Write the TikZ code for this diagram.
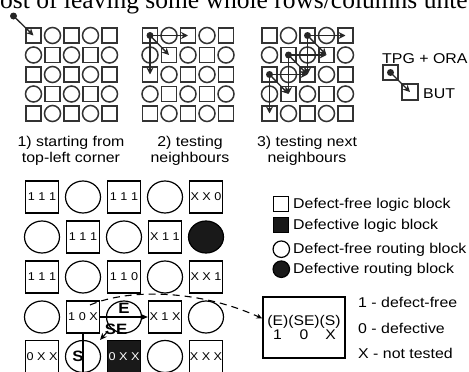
\documentclass[tikz,border=0pt]{standalone}
\usepackage{fontspec}
\setmainfont{Liberation Sans}[FakeStretch=1.12]
\newfontfamily\serifpart{Liberation Serif}
\usepackage{tikz}
\usetikzlibrary{arrows.meta, shapes.geometric, positioning}

\begin{document}
\begin{tikzpicture}[
    x=1pt, y=-1pt,
    cell/.style={rectangle, draw=black!80, line width=1.5pt, minimum size=15pt, inner sep=0pt},
    route/.style={circle, draw=black!80, line width=1.5pt, minimum size=16pt, inner sep=0pt},
    dot/.style={circle, fill=black!85, minimum size=7pt, inner sep=0pt},
    tarrow/.style={-{Stealth[length=7pt, width=7pt]}, line width=1.3pt, black!85},
    barrow/.style={-{Stealth[length=7pt, width=6pt]}, line width=1.1pt},
    lblock/.style={rectangle, draw, line width=1.4pt, minimum width=33pt, minimum height=32pt, inner sep=0pt, font=\fontsize{11.3}{12}\selectfont},
    rblock/.style={ellipse, draw, line width=1.2pt, minimum width=35pt, minimum height=32pt, inner sep=0pt},
    caption/.style={align=center, font=\fontsize{14.2}{16}\selectfont, inner sep=0pt},
    legend/.style={anchor=base west, font=\fontsize{14.2}{16}\selectfont, inner sep=0pt},
    dirlabel/.style={font=\fontsize{15}{16}\selectfont\bfseries, inner sep=0pt}
]
\useasboundingbox (0,0) rectangle (469,372);
\clip (0,0) rectangle (469,372);

\node[anchor=base west, inner sep=0pt, font=\serifpart\fontsize{25.5}{28}\selectfont] (cutline) at (0,8.5) {ost of leaving some whole rows/columns unte};

\foreach \g/\x in {1/33.5, 2/150, 3/269.5} {
  \foreach \r in {1,...,5} {
    \foreach \c in {1,...,5} {
      \pgfmathtruncatemacro{\odd}{mod(\r+\c,2)}
      \ifnum\odd=0
        \node[cell] (g\g-\r-\c) at ({\x+19*(\c-1)}, {35.5+19.5*(\r-1)}) {};
      \else
        \node[route] (g\g-\r-\c) at ({\x+19*(\c-1)}, {35.5+19.5*(\r-1)}) {};
      \fi
    }
  }
}

\node[dot] (start) at (13.5,16) {};
\draw[tarrow] (start.center) -- (g1-1-1.center);

\node[dot] (d2) at (g2-1-1) {};
\draw[tarrow] (d2.center) -- (g2-1-3.center);
\draw[tarrow] (d2.center) -- (g2-2-2.center);
\draw[tarrow] (d2.center) -- (g2-3-1.center);

\node[dot] (d3a) at (g3-1-3) {};
\node[dot] (d3b) at (g3-2-2) {};
\node[dot] (d3c) at (g3-3-1) {};
\draw[tarrow] (d3a.center) -- (g3-1-5.center);
\draw[tarrow] (d3a.center) -- (g3-2-4.center);
\draw[tarrow] (d3a.center) -- (g3-3-3.center);
\draw[tarrow] (d3b.center) -- (g3-2-4.center);
\draw[tarrow] (d3b.center) -- (g3-3-3.center);
\draw[tarrow] (d3b.center) -- (g3-4-2.center);
\draw[tarrow] (d3c.center) -- (g3-3-3.center);
\draw[tarrow] (d3c.center) -- (g3-4-2.center);
\draw[tarrow] (d3c.center) -- (g3-5-1.center);

\node[cell] (tpg) at (390.5,72.5) {};
\node[cell, minimum size=16pt] (but) at (410,92) {};
\node[dot] (tpgdot) at (tpg) {};
\draw[tarrow] (tpgdot.center) -- (but.center);
\node[legend] (tpglabel) at (382,63) {TPG + ORA};
\node[legend] (butlabel) at (423,98) {BUT};

\node[caption] (cap1) at (71,150.5) {1) starting from\\top-left corner};
\node[caption] (cap2) at (190,150.5) {2) testing\\neighbours};
\node[caption] (cap3) at (307,150.5) {3) testing next\\neighbours};

\node[lblock] (c11) at (42,197) {1 1 1};
\node[rblock] (c12) at (83,197) {};
\node[lblock] (c13) at (124,197) {1 1 1};
\node[rblock] (c14) at (165,197) {};
\node[lblock] (c15) at (206,197) {X X 0};
\node[rblock] (c21) at (42,237) {};
\node[lblock] (c22) at (83,237) {1 1 1};
\node[rblock] (c23) at (124,237) {};
\node[lblock] (c24) at (165,237) {X 1 1};
\node[rblock, fill=black!90] (c25) at (206,237) {};
\node[lblock] (c31) at (42,277) {1 1 1};
\node[rblock] (c32) at (83,277) {};
\node[lblock] (c33) at (124,277) {1 1 0};
\node[rblock] (c34) at (165,277) {};
\node[lblock] (c35) at (206,277) {X X 1};
\node[rblock] (c41) at (42,317) {};
\node[lblock] (c42) at (83,317) {1 0 X};
\node[rblock] (c43) at (124,317) {};
\node[lblock] (c44) at (165,317) {X 1 X};
\node[rblock] (c45) at (206,317) {};
\node[lblock] (c51) at (42,356.5) {0 X X};
\node[rblock] (c52) at (83,356.5) {};
\node[lblock, fill=black!90, text=white] (c53) at (124,356.5) {0 X X};
\node[rblock] (c54) at (165,356.5) {};
\node[lblock] (c55) at (206,356.5) {X X X};

\draw[barrow] (c42.east) -- (c44.west);
\node[dirlabel] (elabel) at (124,308.5) {E};
\coordinate (sefrom) at (108,331);
\coordinate (seto) at (100,340);
\draw[barrow] (sefrom) -- (seto);
\node[dirlabel] (selabel) at (116,329) {SE};
\coordinate (send) at (83,380);
\draw[barrow] (c42.south) -- (send);
\node[dirlabel] (slabel) at (78,356) {S};

\node[rectangle, draw, line width=1.4pt, minimum width=82pt, minimum height=61pt, align=center, inner sep=0pt, font=\fontsize{14}{12}\selectfont] (codebox) at (304,327.5) {(E)(SE)(S)\\\makebox[26.5pt]{1}\makebox[26.5pt]{0}\makebox[26.5pt]{X}};
\coordinate (dfrom) at (90,305);
\draw[dash pattern=on 7pt off 5pt, line width=1.1pt, -{Stealth[length=6pt, width=5pt]}] (dfrom) .. controls (130,288) and (200,290) .. ([yshift=9pt]codebox.west);

\node[legend] (free) at (358,307) {1 - defect-free};
\node[legend] (defect) at (358,333) {0 - defective};
\node[legend] (untested) at (358,358) {X - not tested};

\node[cell, line width=1.2pt, draw=black] (lg1) at (280.8,204.2) {};
\node[cell, line width=1.2pt, draw=black, fill=black!90] (lg2) at (280.8,224.7) {};
\node[route, line width=1.2pt, draw=black, minimum size=16.5pt] (lg3) at (281.3,249.2) {};
\node[route, line width=1.2pt, draw=black, fill=black!90, minimum size=16.5pt] (lg4) at (281.3,269.2) {};
\node[legend] (lg1text) at (293,208) {Defect-free logic block};
\node[legend] (lg2text) at (293,229) {Defective logic block};
\node[legend] (lg3text) at (293,253) {Defect-free routing block};
\node[legend] (lg4text) at (293,273) {Defective routing block};
\end{tikzpicture}
\end{document}
